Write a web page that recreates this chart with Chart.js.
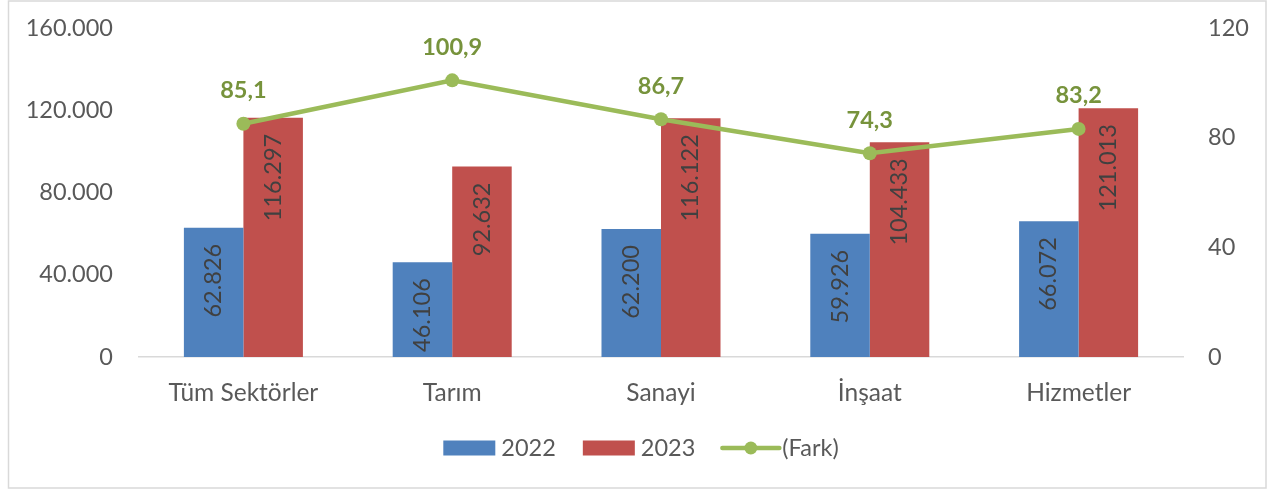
<!DOCTYPE html>
<html>
<head>
<meta charset="utf-8">
<script src="https://cdn.jsdelivr.net/npm/chart.js@4.4.1/dist/chart.umd.min.js"></script>
<style>
  html, body { margin: 0; padding: 0; background: #fff; }
  #wrap { width: 1271px; height: 490px; }
</style>
</head>
<body>
<div id="wrap"><canvas id="chart" width="1271" height="490"></canvas></div>
<script>
const sectors = ["Tüm Sektörler", "Tarım", "Sanayi", "İnşaat", "Hizmetler"];
const values2022 = [62826, 46106, 62200, 59926, 66072];
const values2023 = [116297, 92632, 116122, 104433, 121013];
const fark = [85.1, 100.9, 86.7, 74.3, 83.2];
const leftTicks = [0, 40000, 80000, 120000, 160000];
const rightTicks = [0, 40, 80, 120];

const FONT = "Lato, 'Noto Sans', sans-serif";
const textGray = "#595959";
const blue = "#4F81BD", red = "#C0504D", green = "#9BBB59", greenText = "#77933C";

function trNum(v) {
    return String(v).replace(/\B(?=(\d{3})+(?!\d))/g, ".");
}

// labels inside bars (rotated) and above line points
const valueLabels = {
    id: 'valueLabels',
    afterDatasetsDraw(chart) {
        const ctx = chart.ctx;
        ctx.save();
        [0, 1].forEach(di => {
            const meta = chart.getDatasetMeta(di);
            meta.data.forEach((el, i) => {
                ctx.save();
                ctx.translate(el.x, el.y + 16);
                ctx.rotate(-Math.PI / 2);
                ctx.font = "23.5px " + FONT;
                ctx.fillStyle = "#404040";
                ctx.textAlign = "right";
                ctx.textBaseline = "middle";
                ctx.fillText(trNum(chart.data.datasets[di].data[i]), 0, 0);
                ctx.restore();
            });
        });
        const lineMeta = chart.getDatasetMeta(2);
        lineMeta.data.forEach((pt, i) => {
            ctx.font = "bold 23.5px " + FONT;
            ctx.fillStyle = greenText;
            ctx.textAlign = "center";
            ctx.textBaseline = "middle";
            ctx.fillText(fark[i].toFixed(1).replace(".", ","), pt.x, pt.y - 33);
        });
        ctx.restore();
    }
};

// excel style legend + outer border
const legendAndFrame = {
    id: 'legendAndFrame',
    afterDraw(chart) {
        const ctx = chart.ctx;
        ctx.save();
        ctx.strokeStyle = "#d9d9d9";
        ctx.lineWidth = 1.5;
        ctx.strokeRect(8.5, 1, 1257.5, 487);

        ctx.font = "23.5px " + FONT;
        ctx.textBaseline = "middle";
        ctx.fillStyle = textGray;
        const items = [
            { kind: "box", color: blue, text: "2022" },
            { kind: "box", color: red, text: "2023" },
            { kind: "line", color: green, text: "(Fark)" }
        ];
        const y = 448;
        let total = 0;
        items.forEach((it, i) => {
            it.sw = it.kind == "box" ? 52 : 57;
            it.gap = it.kind == "box" ? 6 : 3;
            it.tw = ctx.measureText(it.text).width;
            total += it.sw + it.gap + it.tw + (i < items.length - 1 ? 27 : 0);
        });
        let x = 641 - total / 2;
        items.forEach(it => {
            if (it.kind == "box") {
                ctx.fillStyle = it.color;
                ctx.fillRect(x, y - 7.5, it.sw, 15);
            } else {
                ctx.strokeStyle = it.color;
                ctx.lineWidth = 4.5;
                ctx.lineCap = "round";
                ctx.beginPath();
                ctx.moveTo(x, y);
                ctx.lineTo(x + it.sw, y);
                ctx.stroke();
                ctx.fillStyle = it.color;
                ctx.beginPath();
                ctx.arc(x + it.sw / 2, y, 6.5, 0, Math.PI * 2);
                ctx.fill();
            }
            x += it.sw + it.gap;
            ctx.fillStyle = textGray;
            ctx.textAlign = "left";
            ctx.fillText(it.text, x, y);
            x += it.tw + 27;
        });
        ctx.restore();
    }
};

new Chart(document.getElementById("chart"), {
    data: {
        labels: sectors,
        datasets: [
            { type: "bar", label: "2022", data: values2022, backgroundColor: blue, yAxisID: "y", order: 2,
              barPercentage: 1, categoryPercentage: 0.57 },
            { type: "bar", label: "2023", data: values2023, backgroundColor: red, yAxisID: "y", order: 2,
              barPercentage: 1, categoryPercentage: 0.57 },
            { type: "line", label: "(Fark)", data: fark, borderColor: green, backgroundColor: green,
              borderWidth: 4.5, pointRadius: 7, pointHoverRadius: 7, pointBackgroundColor: green,
              pointBorderWidth: 0, yAxisID: "y1", order: 1, tension: 0 }
        ]
    },
    options: {
        responsive: false,
        animation: false,
        layout: { padding: { left: 0, right: 0, top: 28, bottom: 0 } },
        plugins: {
            legend: { display: false },
            tooltip: { enabled: false }
        },
        scales: {
            x: {
                offset: true,
                grid: { display: false, drawTicks: false },
                border: { display: true, color: "#d9d9d9", width: 1.5 },
                ticks: { color: textGray, font: { family: FONT, size: 24.5 }, padding: 21, maxRotation: 0 },
                afterFit: s => { s.height = 133; }
            },
            y: {
                position: "left",
                min: 0, max: 160000,
                afterBuildTicks: s => { s.ticks = leftTicks.map(v => ({ value: v })); },
                grid: { display: false, drawTicks: false },
                border: { display: false },
                ticks: { color: textGray, font: { family: FONT, size: 23.5 }, padding: 26,
                         callback: v => trNum(v) },
                afterFit: s => { s.width = 139; s.paddingTop = 0; s.paddingBottom = 0; }
            },
            y1: {
                position: "right",
                min: 0, max: 120,
                afterBuildTicks: s => { s.ticks = rightTicks.map(v => ({ value: v })); },
                grid: { display: false, drawTicks: false },
                border: { display: false },
                ticks: { color: textGray, font: { family: FONT, size: 23.5 }, padding: 25 },
                afterFit: s => { s.width = 88; s.paddingTop = 0; s.paddingBottom = 0; }
            }
        }
    },
    plugins: [valueLabels, legendAndFrame]
});
</script>
</body>
</html>
